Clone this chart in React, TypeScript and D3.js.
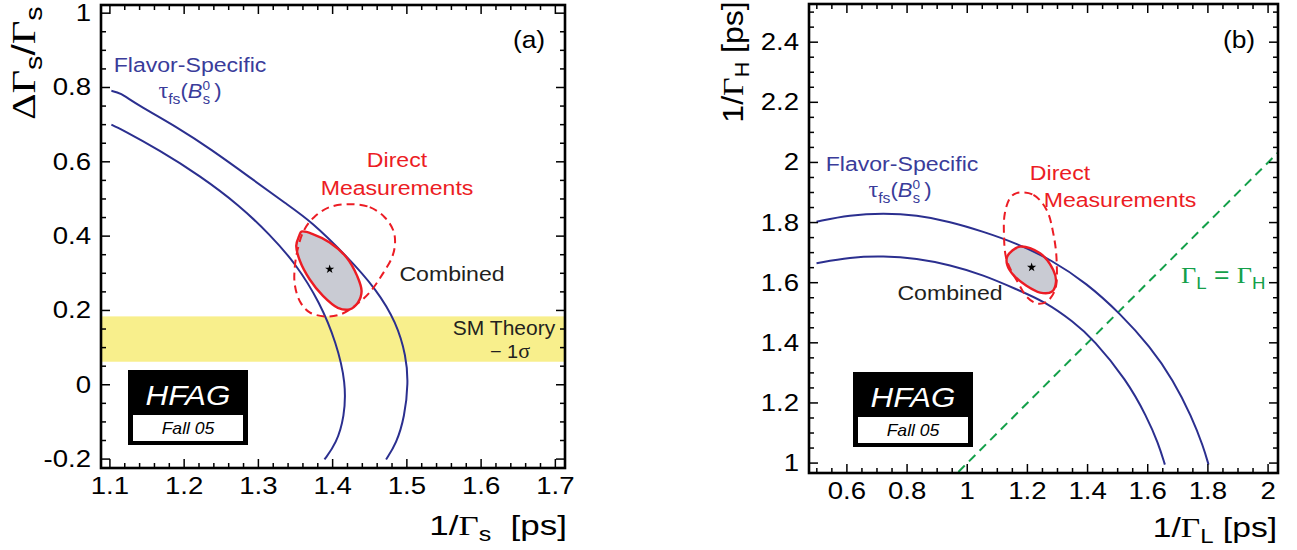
import React from 'react';
import * as d3 from 'd3';

type Pt = [number, number];

// ---------------- data: panel (a)  ΔΓs/Γs vs 1/Γs ----------------
const A_X_TICKS = [1.1, 1.2, 1.3, 1.4, 1.5, 1.6, 1.7];
const A_Y_TICKS = [-0.2, 0, 0.2, 0.4, 0.6, 0.8, 1];
const A_OUTER: Pt[] = [
  [1.102, 0.791], [1.114, 0.786], [1.134, 0.757], [1.194, 0.689], [1.235, 0.635],
  [1.288, 0.559], [1.338, 0.486], [1.371, 0.440], [1.419, 0.346], [1.459, 0.257],
  [1.486, 0.167], [1.499, 0.077], [1.502, 0.005], [1.497, -0.086], [1.486, -0.158],
  [1.472, -0.201],
];
const A_INNER: Pt[] = [
  [1.102, 0.700], [1.114, 0.689], [1.167, 0.631], [1.221, 0.563], [1.275, 0.482],
  [1.315, 0.405], [1.350, 0.327], [1.383, 0.221], [1.405, 0.113], [1.418, 0.005],
  [1.416, -0.086], [1.405, -0.158], [1.389, -0.201],
];
const A_COMBINED: Pt[] = [
  [1.358, 0.412], [1.374, 0.405], [1.396, 0.383], [1.419, 0.342], [1.433, 0.293],
  [1.439, 0.252], [1.434, 0.221], [1.423, 0.203], [1.407, 0.207], [1.387, 0.239],
  [1.369, 0.284], [1.356, 0.333], [1.351, 0.374], [1.355, 0.401],
];
const A_DIRECT: Pt[] = [
  [1.423, 0.486], [1.450, 0.478], [1.470, 0.451], [1.482, 0.414], [1.484, 0.378],
  [1.480, 0.343], [1.467, 0.297], [1.450, 0.249], [1.431, 0.214], [1.410, 0.189],
  [1.389, 0.184], [1.369, 0.195], [1.356, 0.224], [1.349, 0.270], [1.349, 0.316],
  [1.353, 0.365], [1.361, 0.414], [1.375, 0.451], [1.396, 0.478],
];
const A_CENTER: Pt = [1.396, 0.311];
const A_SM_BAND = [0.062, 0.184];

// ---------------- data: panel (b)  1/ΓH vs 1/ΓL ----------------
const B_X_TICKS = [0.6, 0.8, 1, 1.2, 1.4, 1.6, 1.8, 2];
const B_Y_TICKS = [1, 1.2, 1.4, 1.6, 1.8, 2, 2.2, 2.4];
const B_OUTER: Pt[] = [
  [0.499, 1.803], [0.610, 1.825], [0.721, 1.831], [0.832, 1.825], [0.943, 1.803],
  [1.053, 1.770], [1.164, 1.731], [1.280, 1.676], [1.397, 1.598], [1.508, 1.498],
  [1.608, 1.387], [1.685, 1.276], [1.746, 1.154], [1.785, 1.054], [1.802, 0.995],
];
const B_INNER: Pt[] = [
  [0.499, 1.665], [0.610, 1.685], [0.721, 1.689], [0.832, 1.681], [0.943, 1.659],
  [1.053, 1.626], [1.164, 1.578], [1.258, 1.537], [1.353, 1.470], [1.419, 1.412],
  [1.530, 1.276], [1.597, 1.154], [1.635, 1.066], [1.657, 0.995],
];
const B_COMBINED: Pt[] = [
  [1.133, 1.687], [1.175, 1.720], [1.242, 1.698], [1.286, 1.642], [1.295, 1.603],
  [1.281, 1.570], [1.242, 1.567], [1.198, 1.589], [1.153, 1.626], [1.133, 1.659],
];
const B_DIRECT: Pt[] = [
  [1.164, 1.898], [1.220, 1.892], [1.264, 1.842], [1.286, 1.764], [1.297, 1.676],
  [1.292, 1.576], [1.264, 1.537], [1.231, 1.531], [1.198, 1.553], [1.170, 1.598],
  [1.131, 1.676], [1.122, 1.764], [1.125, 1.831], [1.142, 1.881],
];
const B_CENTER: Pt = [1.214, 1.651];
const B_EQUAL_LINE: Pt[] = [[0.9, 0.9], [2.1, 2.1]];

// ---------------- style ----------------
const W = 1297, H = 550;
const BLUE = '#2b2f8f';
const BLUE_TXT = '#3a3c9a';
const RED = '#ec1c24';
const GREEN = '#14a04a';
const YELLOW = '#f8ef8c';
const GREY = '#c9cbd3';
const DARK = '#231f20';
const SANS = '"Liberation Sans", Arial, Helvetica, sans-serif';
const SERIF = '"Liberation Serif", "Times New Roman", serif';

type Cfg = {
  id: string;
  left: number; right: number; top: number; bottom: number;
  xDom: [number, number]; yDom: [number, number];
  xTicks: number[]; yTicks: number[];
  xMinorStep: number; yMinorStep: number;
};

const A_CFG: Cfg = {
  id: 'a', left: 101, right: 565, top: 5, bottom: 468,
  xDom: [1.088, 1.713], yDom: [-0.224, 1.022],
  xTicks: A_X_TICKS, yTicks: A_Y_TICKS, xMinorStep: 0.02, yMinorStep: 0.05,
};
const B_CFG: Cfg = {
  id: 'b', left: 809, right: 1278, top: 4, bottom: 473,
  xDom: [0.474, 2.033], yDom: [0.967, 2.527],
  xTicks: B_X_TICKS, yTicks: B_Y_TICKS, xMinorStep: 0.05, yMinorStep: 0.05,
};

function scales(c: Cfg) {
  const x = d3.scaleLinear().domain(c.xDom).range([c.left, c.right]);
  const y = d3.scaleLinear().domain(c.yDom).range([c.bottom, c.top]);
  return { x, y };
}

function minors(dom: [number, number], step: number) {
  const out: number[] = [];
  const s = Math.ceil(dom[0] / step - 1e-9);
  const e = Math.floor(dom[1] / step + 1e-9);
  for (let i = s; i <= e; i++) out.push(+(i * step).toFixed(4));
  return out;
}

function Frame({ c }: { c: Cfg }) {
  const { x, y } = scales(c);
  const MJ = 9, MN = 5;
  const isMajor = (v: number, arr: number[]) => arr.some((t) => Math.abs(t - v) < 1e-6);
  const xm = minors(c.xDom, c.xMinorStep);
  const ym = minors(c.yDom, c.yMinorStep);
  const fmt = (v: number) => String(v);
  return (
    <g>
      {xm.map((v) => {
        const L = isMajor(v, c.xTicks) ? MJ : MN;
        const px = x(v);
        return (
          <g key={'x' + v} stroke="#000" strokeWidth={1.5}>
            <line x1={px} x2={px} y1={c.bottom} y2={c.bottom - L} />
            <line x1={px} x2={px} y1={c.top} y2={c.top + L} />
          </g>
        );
      })}
      {ym.map((v) => {
        const L = isMajor(v, c.yTicks) ? MJ : MN;
        const py = y(v);
        return (
          <g key={'y' + v} stroke="#000" strokeWidth={1.5}>
            <line x1={c.left} x2={c.left + L} y1={py} y2={py} />
            <line x1={c.right} x2={c.right - L} y1={py} y2={py} />
          </g>
        );
      })}
      <rect x={c.left} y={c.top} width={c.right - c.left} height={c.bottom - c.top}
        fill="none" stroke="#000" strokeWidth={2.6} />
      {c.xTicks.map((v) => (
        <text key={'xl' + v} transform={`translate(${x(v)},${c.bottom + 26}) scale(1.2,1)`}
          textAnchor="middle" fontFamily={SANS} fontSize={23} fill="#000">{fmt(v)}</text>
      ))}
      {c.yTicks.map((v) => (
        <text key={'yl' + v} transform={`translate(${c.left - 10},${y(v) + 8}) scale(1.2,1)`}
          textAnchor="end" fontFamily={SANS} fontSize={23} fill="#000">{fmt(v)}</text>
      ))}
    </g>
  );
}

function HfagBox({ x, y }: { x: number; y: number }) {
  return (
    <g>
      <rect x={x} y={y} width={120} height={75} fill="#000" />
      <rect x={x + 5} y={y + 45} width={110} height={26} fill="#fff" />
      <text transform={`translate(${x + 60},${y + 35}) scale(1.12,1)`} textAnchor="middle"
        fontFamily={SANS} fontStyle="italic" fontSize={28} fill="#fff">HFAG</text>
      <text transform={`translate(${x + 60},${y + 64}) scale(1.1,1)`} textAnchor="middle"
        fontFamily={SANS} fontStyle="italic" fontSize={16} fill="#000">Fall 05</text>
    </g>
  );
}

function TauLabel({ x, y }: { x: number; y: number }) {
  return (
    <text transform={`translate(${x},${y}) scale(1.05,1)`} textAnchor="middle"
      fontFamily={SANS} fontSize={21} fill={BLUE_TXT}>
      <tspan fontFamily={SERIF} fontSize={23}>τ</tspan>
      <tspan fontSize={15} dy={6}>fs</tspan>
      <tspan dy={-6}>(</tspan>
      <tspan fontStyle="italic">B</tspan>
      <tspan fontSize={13} dy={-8}>0</tspan>
      <tspan fontSize={14} dx={-7} dy={14}>s</tspan>
      <tspan dy={-6} dx={4}>)</tspan>
    </text>
  );
}

function Contours({ c, outer, inner, combined, direct, center }: {
  c: Cfg; outer: Pt[]; inner: Pt[]; combined: Pt[]; direct: Pt[]; center: Pt;
}) {
  const { x, y } = scales(c);
  const open = d3.line<Pt>().x((d) => x(d[0])).y((d) => y(d[1])).curve(d3.curveBasis);
  const closed = d3.line<Pt>().x((d) => x(d[0])).y((d) => y(d[1])).curve(d3.curveCatmullRomClosed.alpha(0.5));
  const star = d3.symbol().type(d3.symbolStar).size(26)();
  return (
    <g clipPath={`url(#clip-${c.id})`}>
      <path d={closed(combined) || ''} fill={GREY} stroke="none" />
      <path d={open(outer) || ''} fill="none" stroke={BLUE} strokeWidth={2} />
      <path d={open(inner) || ''} fill="none" stroke={BLUE} strokeWidth={2} />
      <path d={closed(direct) || ''} fill="none" stroke={RED} strokeWidth={2} strokeDasharray="8,5" />
      <path d={closed(combined) || ''} fill="none" stroke={RED} strokeWidth={2.4} />
      <path d={star || ''} transform={`translate(${x(center[0])},${y(center[1])})`} fill="#000" />
    </g>
  );
}

export default function App() {
  const a = scales(A_CFG);
  const b = scales(B_CFG);
  const eqLine = d3.line<Pt>().x((d) => b.x(d[0])).y((d) => b.y(d[1]));
  return (
    <svg width={W} height={H} viewBox={`0 0 ${W} ${H}`}
      style={{ position: 'absolute', left: 0, top: 0, background: '#fff' }}>
      <defs>
        <clipPath id="clip-a">
          <rect x={A_CFG.left} y={A_CFG.top} width={A_CFG.right - A_CFG.left} height={A_CFG.bottom - A_CFG.top} />
        </clipPath>
        <clipPath id="clip-b">
          <rect x={B_CFG.left} y={B_CFG.top} width={B_CFG.right - B_CFG.left} height={B_CFG.bottom - B_CFG.top} />
        </clipPath>
      </defs>
      <rect width={W} height={H} fill="#fff" />

      {/* ---------- panel (a) ---------- */}
      <rect x={A_CFG.left} width={A_CFG.right - A_CFG.left}
        y={a.y(A_SM_BAND[1])} height={a.y(A_SM_BAND[0]) - a.y(A_SM_BAND[1])} fill={YELLOW} />
      <text transform={`translate(504,335) scale(1.05,1)`} textAnchor="middle" fontFamily={SANS}
        fontSize={20} fill={DARK}>SM Theory</text>
      <text transform={`translate(510,358) scale(1.05,1)`} textAnchor="middle" fontFamily={SANS}
        fontSize={19} fill={DARK}>− 1<tspan fontFamily={SERIF} fontSize={21}>σ</tspan></text>
      <Contours c={A_CFG} outer={A_OUTER} inner={A_INNER} combined={A_COMBINED} direct={A_DIRECT} center={A_CENTER} />
      <HfagBox x={128} y={370} />
      <Frame c={A_CFG} />

      <text transform="translate(190,72) scale(1.1,1)" textAnchor="middle" fontFamily={SANS}
        fontSize={21} fill={BLUE_TXT}>Flavor-Specific</text>
      <TauLabel x={190} y={98} />
      <text transform="translate(397,167) scale(1.1,1)" textAnchor="middle" fontFamily={SANS}
        fontSize={21} fill={RED}>Direct</text>
      <text transform="translate(397,195) scale(1.1,1)" textAnchor="middle" fontFamily={SANS}
        fontSize={21} fill={RED}>Measurements</text>
      <text transform="translate(452,281) scale(1.1,1)" textAnchor="middle" fontFamily={SANS}
        fontSize={21} fill={DARK}>Combined</text>
      <text transform="translate(529,48) scale(1.1,1)" textAnchor="middle" fontFamily={SANS}
        fontSize={24} fill="#000">(a)</text>

      {/* axis titles (a) */}
      <text transform="translate(35,63) rotate(-90) scale(1.2,1)" textAnchor="middle"
        fontFamily={SANS} fontSize={34} fill="#000">
        <tspan fontFamily={SERIF}>ΔΓ</tspan>
        <tspan fontSize={24} dy={7}>s</tspan>
        <tspan dy={-7}>/</tspan>
        <tspan fontFamily={SERIF}>Γ</tspan>
        <tspan fontSize={24} dy={7}>s</tspan>
      </text>
      <text transform="translate(567,535) scale(1.25,1)" textAnchor="end"
        fontFamily={SANS} fontSize={28} fill="#000">
        1/<tspan fontFamily={SERIF}>Γ</tspan>
        <tspan fontSize={20} dy={6}>s</tspan>
        <tspan dy={-6}>{'\u00a0\u00a0[ps]'}</tspan>
      </text>

      {/* ---------- panel (b) ---------- */}
      <path d={eqLine(B_EQUAL_LINE) || ''} clipPath="url(#clip-b)" fill="none" stroke={GREEN}
        strokeWidth={2} strokeDasharray="9,6" />
      <Contours c={B_CFG} outer={B_OUTER} inner={B_INNER} combined={B_COMBINED} direct={B_DIRECT} center={B_CENTER} />
      <HfagBox x={853} y={372} />
      <Frame c={B_CFG} />

      <text transform="translate(902,171) scale(1.1,1)" textAnchor="middle" fontFamily={SANS}
        fontSize={21} fill={BLUE_TXT}>Flavor-Specific</text>
      <TauLabel x={900} y={197} />
      <text transform="translate(1060,180) scale(1.1,1)" textAnchor="middle" fontFamily={SANS}
        fontSize={21} fill={RED}>Direct</text>
      <text transform="translate(1120,207) scale(1.1,1)" textAnchor="middle" fontFamily={SANS}
        fontSize={21} fill={RED}>Measurements</text>
      <text transform="translate(950,300) scale(1.1,1)" textAnchor="middle" fontFamily={SANS}
        fontSize={21} fill={DARK}>Combined</text>
      <text transform="translate(1239,48) scale(1.1,1)" textAnchor="middle" fontFamily={SANS}
        fontSize={24} fill="#000">(b)</text>
      <text transform="translate(1181,283) scale(1.1,1)" textAnchor="start" fontFamily={SANS}
        fontSize={24} fill={GREEN}>
        <tspan fontFamily={SERIF}>Γ</tspan>
        <tspan fontSize={17} dy={6}>L</tspan>
        <tspan dy={-6}>{'\u00a0=\u00a0'}</tspan>
        <tspan fontFamily={SERIF}>Γ</tspan>
        <tspan fontSize={17} dy={6}>H</tspan>
      </text>

      {/* axis titles (b) */}
      <text transform="translate(743,62) rotate(-90) scale(1.07,1)" textAnchor="middle"
        fontFamily={SANS} fontSize={30} fill="#000">
        1/<tspan fontFamily={SERIF}>Γ</tspan>
        <tspan fontSize={20} dy={6}>H</tspan>
        <tspan dy={-6}>{'\u00a0[ps]'}</tspan>
      </text>
      <text transform="translate(1277,537) scale(1.2,1)" textAnchor="end"
        fontFamily={SANS} fontSize={28} fill="#000">
        1/<tspan fontFamily={SERIF}>Γ</tspan>
        <tspan fontSize={20} dy={6}>L</tspan>
        <tspan dy={-6}>{'\u00a0[ps]'}</tspan>
      </text>
    </svg>
  );
}
